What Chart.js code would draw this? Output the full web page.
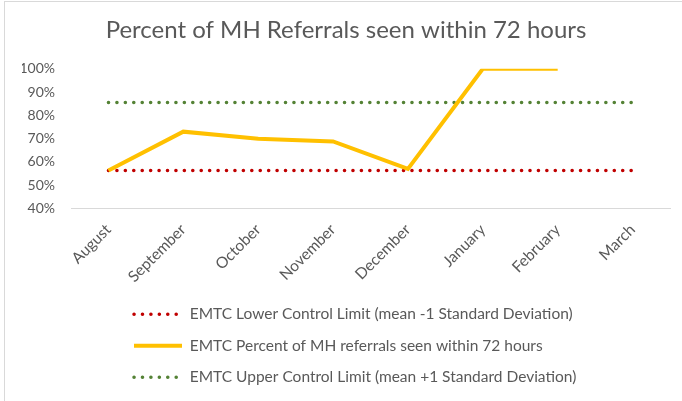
<!DOCTYPE html>
<html>
<head>
<meta charset="utf-8">
<script src="https://cdn.jsdelivr.net/npm/chart.js@4"></script>
<style>
  html, body { margin: 0; padding: 0; background: #fff; }
  #wrap { position: relative; width: 682px; height: 401px; }
  #frame { position: absolute; left: 4px; top: 1px; width: 690px; height: 410px;
           border-left: 1px solid #d9d9d9; border-top: 1px solid #d9d9d9; pointer-events: none; }
</style>
</head>
<body>
<div id="wrap">
  <canvas id="c" width="682" height="401"></canvas>
  <div id="frame"></div>
</div>
<script>
const months = ["August", "September", "October", "November", "December", "January", "February", "March"];
const percentSeen = [56.3, 73, 70, 68.8, 57, 100, 100, null];
const lowerLimit = [56.3, 56.3, 56.3, 56.3, 56.3, 56.3, 56.3, 56.3];
const upperLimit = [85.5, 85.5, 85.5, 85.5, 85.5, 85.5, 85.5, 85.5];
const yTicks = [40, 50, 60, 70, 80, 90, 100];

const FONT = "Lato, 'Open Sans', sans-serif";
const GREY = "#595959";

const legendShift = {
  id: 'legendShift',
  afterLayout(chart) {
    const lg = chart.legend;
    if (lg) { lg.left = 118; }
  }
};

new Chart(document.getElementById('c'), {
  type: 'line',
  data: {
    labels: months,
    datasets: [
      {
        label: 'EMTC Lower Control Limit (mean -1 Standard Deviation)',
        data: lowerLimit,
        borderColor: '#c00000',
        backgroundColor: '#c00000',
        borderWidth: 3.5,
        borderDash: [0.1, 8.33],
        borderCapStyle: 'round',
        pointRadius: 0,
        tension: 0,
        order: 1
      },
      {
        label: 'EMTC Percent of MH referrals seen within 72 hours',
        data: percentSeen,
        borderColor: '#ffc000',
        backgroundColor: '#ffc000',
        borderWidth: 4,
        borderCapStyle: 'butt',
        pointRadius: 0,
        tension: 0,
        spanGaps: false,
        order: 0
      },
      {
        label: 'EMTC Upper Control Limit (mean +1 Standard Deviation)',
        data: upperLimit,
        borderColor: '#548235',
        backgroundColor: '#548235',
        borderWidth: 3.5,
        borderDash: [0.1, 8.33],
        borderCapStyle: 'round',
        pointRadius: 0,
        tension: 0,
        order: 2
      }
    ]
  },
  options: {
    responsive: false,
    animation: false,
    devicePixelRatio: 1,
    layout: { padding: { left: 22, right: 12, top: 12, bottom: 6 } },
    plugins: {
      title: {
        display: true,
        text: 'Percent of MH Referrals seen within 72 hours',
        color: GREY,
        font: { family: FONT, size: 24, weight: 'normal' },
        padding: { top: 4, bottom: 24 }
      },
      legend: {
        position: 'bottom',
        align: 'start',
        labels: {
          color: GREY,
          font: { family: FONT, size: 15.5 },
          usePointStyle: true,
          pointStyle: 'line',
          pointStyleWidth: 48,
          boxHeight: 14,
          padding: 16,
          sort: (a, b) => a.datasetIndex - b.datasetIndex,
          generateLabels(chart) {
            const items = Chart.defaults.plugins.legend.labels.generateLabels(chart);
            items.forEach(it => {
              const ds = chart.data.datasets[it.datasetIndex];
              it.pointStyle = 'line';
              it.lineDash = ds.borderDash || [];
              it.lineCap = ds.borderCapStyle || 'butt';
              it.lineWidth = ds.borderWidth;
              it.strokeStyle = ds.borderColor;
            });
            return items;
          }
        }
      },
      tooltip: { enabled: false }
    },
    scales: {
      x: {
        offset: true,
        grid: { display: false, drawTicks: false },
        border: { display: true, color: '#d9d9d9', width: 1 },
        ticks: {
          color: GREY,
          font: { family: FONT, size: 15.5 },
          maxRotation: 45,
          minRotation: 45,
          padding: 12
        },
        afterFit(s) { s.height = 82; }
      },
      y: {
        min: 40,
        max: 100,
        grid: { display: false, drawTicks: false },
        border: { display: false },
        afterBuildTicks(s) { s.ticks = yTicks.map(v => ({ value: v })); },
        ticks: {
          color: GREY,
          font: { family: FONT, size: 14 },
          padding: 16,
          callback: v => v + '%'
        },
        afterFit(s) { s.width = 49; }
      }
    }
  },
  plugins: [legendShift]
});
</script>
</body>
</html>
